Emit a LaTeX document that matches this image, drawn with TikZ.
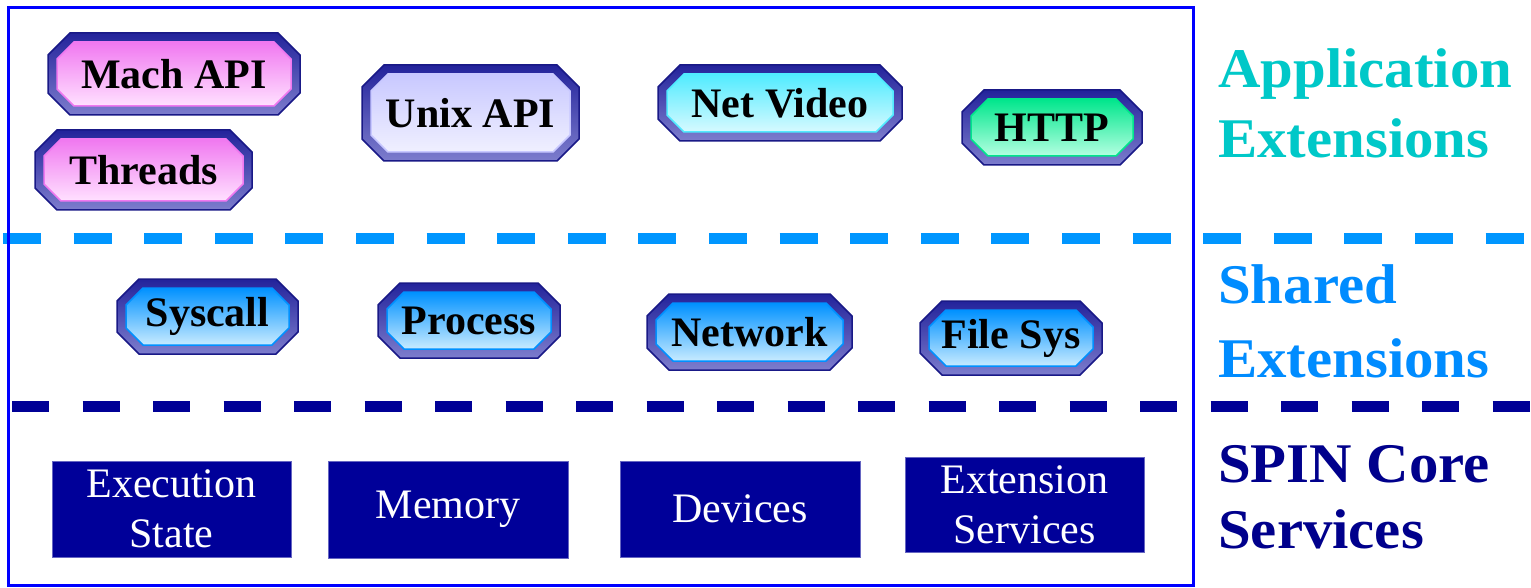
\documentclass[tikz,border=0pt]{standalone}
\usepackage{fontspec}
\setmainfont{Liberation Serif}
\newfontfamily\lblfont[FakeStretch=1.05]{Liberation Serif}
\definecolor{outerblue}{RGB}{0,0,255}
\definecolor{lightdash}{RGB}{0,150,255}
\definecolor{darkdash}{RGB}{0,0,150}
\definecolor{navybox}{RGB}{0,0,153}
\definecolor{appcol}{RGB}{0,200,200}
\definecolor{sharedcol}{RGB}{0,140,255}
\definecolor{corecol}{RGB}{0,0,140}
\definecolor{bandtop}{RGB}{35,35,155}
\definecolor{bandbot}{RGB}{125,125,205}
\definecolor{bandline}{RGB}{25,25,135}
\definecolor{pinkA}{RGB}{240,120,240}
\definecolor{pinkB}{RGB}{255,225,255}
\definecolor{lavA}{RGB}{200,200,255}
\definecolor{lavB}{RGB}{240,240,255}
\definecolor{cyanA}{RGB}{80,235,255}
\definecolor{cyanB}{RGB}{215,250,255}
\definecolor{greenA}{RGB}{0,230,140}
\definecolor{greenB}{RGB}{180,255,225}
\definecolor{blueA}{RGB}{0,145,255}
\definecolor{blueB}{RGB}{200,235,255}
\tikzset{
  band/.style={draw=bandline, line width=1.5, top color=bandtop, bottom color=bandbot},
  octtext/.style={inner sep=0, font=\fontsize{42}{48}\selectfont\bfseries, text=black},
  corebox/.style={fill=navybox, draw=navybox!60!white, line width=0.8, inner sep=0, align=center,
    text=white, font=\fontsize{42}{50}\selectfont},
  lbl/.style={anchor=base west, inner sep=0, font=\lblfont\fontsize{56}{66}\selectfont\bfseries},
}
% name, x1, y1, x2, y2, top colour, bottom colour, text
\newcommand{\octbox}[8]{%
  \draw[band] ({#2+22},#3) -- ({#4-22},#3) -- (#4,{#3+22}) -- (#4,{#5-22}) -- ({#4-22},#5)
    -- ({#2+22},#5) -- (#2,{#5-22}) -- (#2,{#3+22}) -- cycle;
  \draw[draw=#6, line width=1.5, top color=#6, bottom color=#7]
    ({#2+26},{#3+9}) -- ({#4-26},{#3+9}) -- ({#4-9},{#3+26}) -- ({#4-9},{#5-26}) -- ({#4-26},{#5-9})
    -- ({#2+26},{#5-9}) -- ({#2+9},{#5-26}) -- ({#2+9},{#3+26}) -- cycle;
  \node[octtext] (#1) at ({(#2+#4)/2},{(#3+#5)/2}) {#8};
}
\begin{document}
\begin{tikzpicture}[x=1pt,y=-1pt]
\useasboundingbox (0,0) rectangle (1531,588);
\fill[white] (0,0) rectangle (1531,588);

% dashed separators
\draw[lightdash, line width=11, dash pattern=on 38 off 32.6] (3,238) -- (1531,238);
\draw[darkdash, line width=11, dash pattern=on 37 off 33.5] (12,406.5) -- (1531,406.5);

% outer frame
\draw[outerblue, line width=3] (8,8) rectangle (1193,585);

% application extensions
\octbox{mach}{48}{33}{300}{115}{pinkA}{pinkB}{Mach API}
\octbox{threads}{35}{130}{252}{210}{pinkA}{pinkB}{Threads}
\octbox{unix}{362}{65}{579}{161}{lavA}{lavB}{Unix API}
\octbox{netvideo}{658}{65}{902}{141}{cyanA}{cyanB}{Net Video}
\octbox{http}{962}{90}{1142}{165}{greenA}{greenB}{HTTP}

% shared extensions
\octbox{syscall}{117}{279}{298}{354}{blueA}{blueB}{Syscall}
\octbox{process}{378}{283}{560}{358}{blueA}{blueB}{Process}
\octbox{network}{647}{294}{852}{370}{blueA}{blueB}{Network}
\octbox{filesys}{920}{301}{1102}{375}{blueA}{blueB}{File Sys}

% core services
\node[corebox, minimum width=239, minimum height=96] (exec) at (171.5,509) {Execution\\State};
\node[corebox, minimum width=240, minimum height=97] (mem) at (448,509.5) {Memory};
\node[corebox, minimum width=240, minimum height=96] (dev) at (740,509) {Devices};
\node[corebox, minimum width=239, minimum height=95] (extsvc) at (1024.5,504.5) {Extension\\Services};

% layer labels
\node[lbl, text=appcol] (appA) at (1218,88) {Application};
\node[lbl, text=appcol] (appB) at (1218,158) {Extensions};
\node[lbl, text=sharedcol] (shA) at (1218,303) {Shared};
\node[lbl, text=sharedcol] (shB) at (1218,377) {Extensions};
\node[lbl, text=corecol] (coreA) at (1218,482) {SPIN Core};
\node[lbl, text=corecol] (coreB) at (1218,548) {Services};
\end{tikzpicture}
\end{document}
